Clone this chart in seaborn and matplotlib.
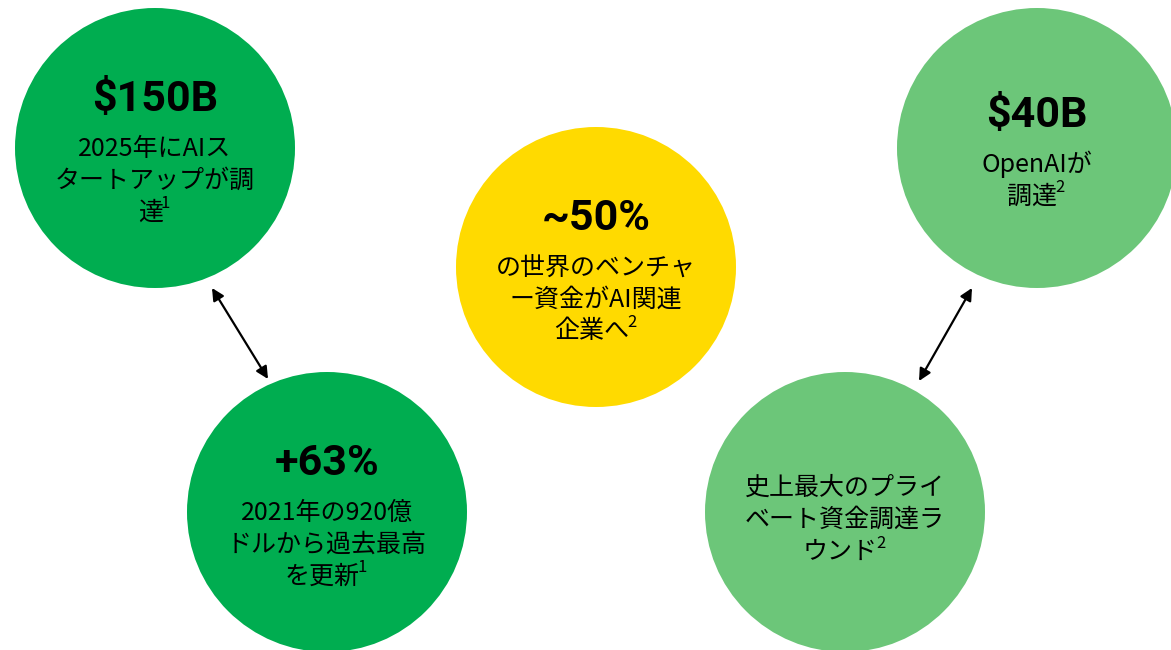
import numpy as np
import pandas as pd
import seaborn as sns
import matplotlib.pyplot as plt

# chart content
headlines = ["$150B", "+63%", "~50%", "$40B", ""]
captions = [
    ["2025年にAIス", "タートアップが調", "達"],
    ["2021年の920億", "ドルから過去最高", "を更新"],
    ["の世界のベンチャ", "ー資金がAI関連", "企業へ"],
    ["OpenAIが", "調達"],
    ["史上最大のプライ", "ベート資金調達ラ", "ウンド"],
]
footnotes = ["1", "1", "2", "2", "2"]
groups = ["dark", "dark", "yellow", "light", "light"]

# layout (pixels, figure is 1171x650 at dpi 100)
cx = [155, 327, 596, 1037, 845]
cy = [148, 512, 267, 148, 512]
radius = 140
arrows = [((212, 288), (268, 379)), ((972, 288), (919, 381))]
palette = {"dark": "#00AD50", "yellow": "#FFDA00", "light": "#6CC679"}

sns.set_theme(style="white")
plt.rcParams['font.family'] = ['Noto Sans CJK JP', 'DejaVu Sans']

fig = plt.figure(figsize=(11.71, 6.5), dpi=100)
ax = fig.add_axes([0, 0, 1, 1])
ax.set_xlim(0, 1171)
ax.set_ylim(650, 0)
ax.set_aspect("equal")
ax.axis("off")

df = pd.DataFrame({"x": cx, "y": cy, "g": groups})
diam_pt = 2 * radius * 72 / 100
sns.scatterplot(data=df, x="x", y="y", hue="g", palette=palette, s=diam_pt ** 2,
                linewidth=0, legend=False, ax=ax, zorder=1)

renderer = fig.canvas.get_renderer()
for (x, y, head, lines, note) in zip(cx, cy, headlines, captions, footnotes):
    offs = []
    start = 49 if head else 0
    if head:
        offs.append(0)
    offs += [start + 32 * i for i in range(len(lines))]
    shift = y + 8 - (offs[0] + offs[-1]) / 2
    k = 0
    if head:
        ax.text(x, shift, head, ha="center", va="center", fontsize=31,
                fontweight="bold", family=["Roboto", "DejaVu Sans"],
                color="black", parse_math=False)
        k = 1
    for i, ln in enumerate(lines):
        ty = shift + offs[k + i]
        if i < len(lines) - 1:
            ax.text(x, ty, ln, ha="center", va="center", fontsize=18, color="black")
            continue
        # last line carries the footnote mark as a superscript
        t = ax.text(x, ty, ln, ha="center", va="center", fontsize=18, color="black")
        s = ax.text(x, ty - 9, note, ha="left", va="center", fontsize=12,
                    color="black", family=["Noto Sans CJK JP"])
        wt = t.get_window_extent(renderer).width
        ws = s.get_window_extent(renderer).width
        t.set_x(x - ws / 2)
        s.set_x(x - ws / 2 + wt / 2 - 2)

for (a, b) in arrows:
    ax.annotate("", xy=a, xytext=b,
                arrowprops=dict(arrowstyle="<|-|>", color="black", lw=1.6,
                                mutation_scale=18, shrinkA=0, shrinkB=0))

fig.savefig("out.png", dpi=100)
